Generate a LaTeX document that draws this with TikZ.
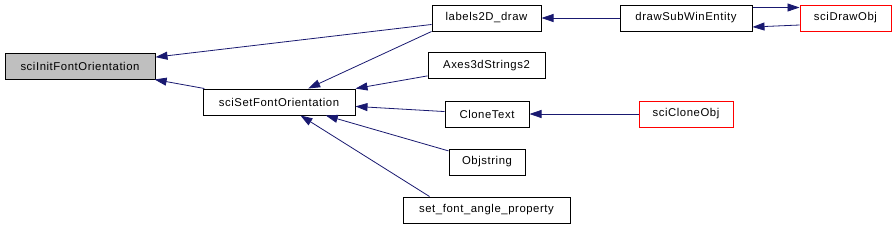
\documentclass[tikz,border=0pt]{standalone}
\usepackage{fontspec}
\usepackage{tikz}
\usepackage{xcolor}
\usetikzlibrary{arrows.meta,positioning,calc}
\newfontfamily\graphfont[LetterSpace=5]{Liberation Sans}
\definecolor{ink}{HTML}{000000}
\definecolor{callblue}{HTML}{191970}
\definecolor{rootgray}{HTML}{BFBFBF}
\definecolor{extred}{HTML}{FF0000}
\tikzset{
  funcbox/.style={draw=ink,fill=white,line width=0.75pt,
                  minimum height=19.5pt,inner sep=0pt,
                  font=\graphfont\fontsize{8.5}{10}\selectfont},
  rootbox/.style={funcbox,fill=rootgray},
  extbox/.style={funcbox,draw=extred},
  callarr/.style={-{Triangle[length=9pt,width=6pt]},line width=0.6pt,color=callblue}
}

\begin{document}
\begin{tikzpicture}[x=0.75pt,y=-0.75pt]
  \useasboundingbox (0,0) rectangle (895,226);
  \node[rootbox,minimum width=112.5pt] (init) at (80,66) {sciInitFontOrientation};
  \node[funcbox,minimum width=114pt] (sciset) at (279,102) {sciSetFontOrientation};
  \node[funcbox,minimum width=81.75pt] (lab2d) at (486.5,18) {labels2D\_draw};
  \node[funcbox,minimum width=87.75pt] (axes) at (486.5,65.5) {Axes3dStrings2};
  \node[funcbox,minimum width=63pt] (clone) at (487,114) {CloneText};
  \node[funcbox,minimum width=57pt] (objstr) at (487,162) {Objstring};
  \node[funcbox,minimum width=125.25pt] (setfont) at (486.5,210) {set\_font\_angle\_property};
  \node[funcbox,minimum width=99pt] (dsw) at (686,18) {drawSubWinEntity};
  \node[extbox,minimum width=68.25pt] (sdo) at (845.5,18) {sciDrawObj};
  \node[extbox,minimum width=70.5pt] (sco) at (686,114) {sciCloneObj};

  \draw[callarr] (lab2d) -- (init);
  \draw[callarr] (sciset) -- (init);
  \draw[callarr] (lab2d.south west) -- (sciset);
  \draw[callarr] (axes) -- (sciset);
  \draw[callarr] (clone) -- (sciset);
  \draw[callarr] (objstr) -- (sciset);
  \draw[callarr] ($(setfont.north west)+(27,0)$) -- (sciset);
  \draw[callarr] (dsw) -- (lab2d);
  \draw[callarr] (sco) -- (clone);
  \draw[callarr] ($(dsw.north east)+(0,3)$) -- ($(sdo.north west)+(0,3)$);
  \draw[callarr] ($(sdo.west)+(0,7)$) -- ($(dsw.east)+(0,9)$);
\end{tikzpicture}
\end{document}
